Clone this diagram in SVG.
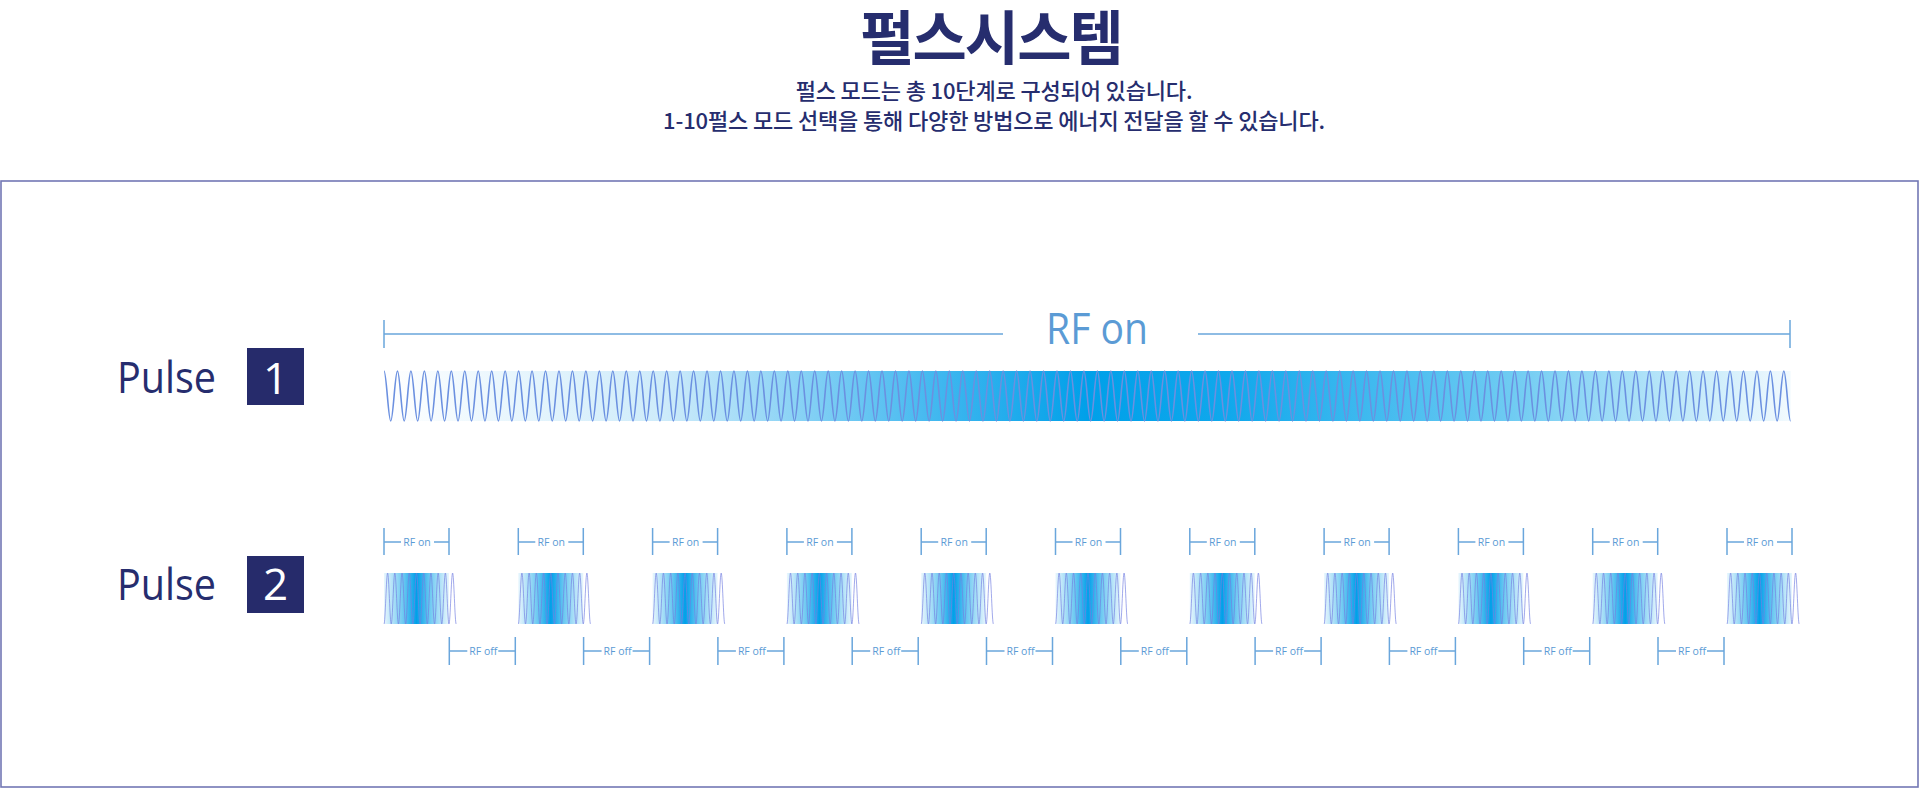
<svg xmlns="http://www.w3.org/2000/svg" xmlns:xlink="http://www.w3.org/1999/xlink" width="1920" height="788" viewBox="0 0 1920 788">
<style>
.ko{font-family:"Noto Sans CJK KR","Noto Sans",sans-serif;fill:#262d6e;text-anchor:middle}
.lbl{font-family:"Open Sans","Liberation Sans",sans-serif;fill:#262d6e;font-size:44px}
.num{font-family:"Open Sans","Liberation Sans",sans-serif;fill:#ffffff;font-size:44px;text-anchor:middle}
.box{fill:#262b6b}
.dim{stroke:#6aa6dc;stroke-width:1.5;fill:none}
.sm{font-family:"Open Sans","Liberation Sans",sans-serif;fill:#5b9bd5;font-size:10.5px;text-anchor:middle}
.big{font-family:"Open Sans","Liberation Sans",sans-serif;fill:#5b9bd5;font-size:44px;text-anchor:middle}
.wave{fill:none;stroke:#6b90e0;stroke-width:1.6}
.bw{fill:none;stroke:#7480e2;stroke-width:0.8;opacity:0.85}
</style>
<defs>
<linearGradient id="g1" gradientUnits="userSpaceOnUse" x1="384" y1="0" x2="1791" y2="0">
<stop offset="0" stop-color="#ffffff"/>
<stop offset="0.2" stop-color="#cdebfa"/>
<stop offset="0.4" stop-color="#3cb6ef"/>
<stop offset="0.5" stop-color="#00a0e9"/>
<stop offset="0.6" stop-color="#10a8ec"/>
<stop offset="0.8" stop-color="#6ecbf2"/>
<stop offset="1" stop-color="#f2fafe"/>
</linearGradient>
<linearGradient id="gB" x1="0" y1="0" x2="1" y2="0">
<stop offset="0" stop-color="#e8f6fd"/>
<stop offset="0.3" stop-color="#6ac8f1"/>
<stop offset="0.5" stop-color="#00a0e9"/>
<stop offset="0.7" stop-color="#6ac8f1"/>
<stop offset="1" stop-color="#e8f6fd"/>
</linearGradient>
<g id="burst">
<rect x="0" y="0" width="65" height="51" fill="url(#gB)"/>
<path class="bw" d="M0,51 c1.31,0 2.30,-51 3.61,-51 s2.30,51 3.61,51 2.30,-51 3.61,-51 2.30,51 3.61,51 2.30,-51 3.61,-51 2.30,51 3.61,51 2.30,-51 3.61,-51 2.30,51 3.61,51 2.30,-51 3.61,-51 2.30,51 3.61,51 2.30,-51 3.61,-51 2.30,51 3.61,51 2.30,-51 3.61,-51 2.30,51 3.61,51 2.30,-51 3.61,-51 2.30,51 3.61,51 2.30,-51 3.61,-51 2.30,51 3.61,51 2.30,-51 3.61,-51 2.30,51 3.61,51"/>
</g>
<g id="onB">
<path class="dim" d="M0,0V27M65,0V27M0,14H17M50,14H65"/>
<text class="sm" x="33" y="17.5">RF on</text>
</g>
<g id="offB">
<path class="dim" d="M0,0V28M66,0V28M0,14H18M49,14H66"/>
<text class="sm" x="34" y="18">RF off</text>
</g>
</defs>

<g id="title">
<text class="ko" x="991" y="59.5" font-size="59" font-weight="700" letter-spacing="-2">펄스시스템</text>
<text class="ko" x="994" y="99" font-size="22" font-weight="500" letter-spacing="-0.15">펄스 모드는 총 10단계로 구성되어 있습니다.</text>
<text class="ko" x="994" y="129" font-size="22" font-weight="500" letter-spacing="-0.15">1-10펄스 모드 선택을 통해 다양한 방법으로 에너지 전달을 할 수 있습니다.</text>
</g>

<rect id="frame" x="1" y="181" width="1917" height="606" fill="none" stroke="#7277b5" stroke-width="1.6"/>

<g id="pulse1">
<text class="lbl" x="117" y="393" textLength="99" lengthAdjust="spacingAndGlyphs">Pulse</text>
<rect class="box" x="247" y="348" width="57" height="57"/>
<text class="num" x="275.5" y="394">1</text>
<rect x="384" y="371" width="1406.6" height="50" fill="url(#g1)"/>
<path class="wave" d="M384,371 c2.45,0 4.28,50 6.73,50
s4.28,-50 6.73,-50 4.28,50 6.73,50 4.28,-50 6.73,-50 4.28,50 6.73,50 4.28,-50 6.73,-50 4.28,50 6.73,50 4.28,-50 6.73,-50 4.28,50 6.73,50
4.28,-50 6.73,-50 4.28,50 6.73,50 4.28,-50 6.73,-50 4.28,50 6.73,50 4.28,-50 6.73,-50 4.28,50 6.73,50 4.28,-50 6.73,-50 4.28,50 6.73,50
4.28,-50 6.73,-50 4.28,50 6.73,50 4.28,-50 6.73,-50 4.28,50 6.73,50 4.28,-50 6.73,-50 4.28,50 6.73,50 4.28,-50 6.73,-50 4.28,50 6.73,50
4.28,-50 6.73,-50 4.28,50 6.73,50 4.28,-50 6.73,-50 4.28,50 6.73,50 4.28,-50 6.73,-50 4.28,50 6.73,50 4.28,-50 6.73,-50 4.28,50 6.73,50
4.28,-50 6.73,-50 4.28,50 6.73,50 4.28,-50 6.73,-50 4.28,50 6.73,50 4.28,-50 6.73,-50 4.28,50 6.73,50 4.28,-50 6.73,-50 4.28,50 6.73,50
4.28,-50 6.73,-50 4.28,50 6.73,50 4.28,-50 6.73,-50 4.28,50 6.73,50 4.28,-50 6.73,-50 4.28,50 6.73,50 4.28,-50 6.73,-50 4.28,50 6.73,50
4.28,-50 6.73,-50 4.28,50 6.73,50 4.28,-50 6.73,-50 4.28,50 6.73,50 4.28,-50 6.73,-50 4.28,50 6.73,50 4.28,-50 6.73,-50 4.28,50 6.73,50
4.28,-50 6.73,-50 4.28,50 6.73,50 4.28,-50 6.73,-50 4.28,50 6.73,50 4.28,-50 6.73,-50 4.28,50 6.73,50 4.28,-50 6.73,-50 4.28,50 6.73,50
4.28,-50 6.73,-50 4.28,50 6.73,50 4.28,-50 6.73,-50 4.28,50 6.73,50 4.28,-50 6.73,-50 4.28,50 6.73,50 4.28,-50 6.73,-50 4.28,50 6.73,50
4.28,-50 6.73,-50 4.28,50 6.73,50 4.28,-50 6.73,-50 4.28,50 6.73,50 4.28,-50 6.73,-50 4.28,50 6.73,50 4.28,-50 6.73,-50 4.28,50 6.73,50
4.28,-50 6.73,-50 4.28,50 6.73,50 4.28,-50 6.73,-50 4.28,50 6.73,50 4.28,-50 6.73,-50 4.28,50 6.73,50 4.28,-50 6.73,-50 4.28,50 6.73,50
4.28,-50 6.73,-50 4.28,50 6.73,50 4.28,-50 6.73,-50 4.28,50 6.73,50 4.28,-50 6.73,-50 4.28,50 6.73,50 4.28,-50 6.73,-50 4.28,50 6.73,50
4.28,-50 6.73,-50 4.28,50 6.73,50 4.28,-50 6.73,-50 4.28,50 6.73,50 4.28,-50 6.73,-50 4.28,50 6.73,50 4.28,-50 6.73,-50 4.28,50 6.73,50
4.28,-50 6.73,-50 4.28,50 6.73,50 4.28,-50 6.73,-50 4.28,50 6.73,50 4.28,-50 6.73,-50 4.28,50 6.73,50 4.28,-50 6.73,-50 4.28,50 6.73,50
4.28,-50 6.73,-50 4.28,50 6.73,50 4.28,-50 6.73,-50 4.28,50 6.73,50 4.28,-50 6.73,-50 4.28,50 6.73,50 4.28,-50 6.73,-50 4.28,50 6.73,50
4.28,-50 6.73,-50 4.28,50 6.73,50 4.28,-50 6.73,-50 4.28,50 6.73,50 4.28,-50 6.73,-50 4.28,50 6.73,50 4.28,-50 6.73,-50 4.28,50 6.73,50
4.28,-50 6.73,-50 4.28,50 6.73,50 4.28,-50 6.73,-50 4.28,50 6.73,50 4.28,-50 6.73,-50 4.28,50 6.73,50 4.28,-50 6.73,-50 4.28,50 6.73,50
4.28,-50 6.73,-50 4.28,50 6.73,50 4.28,-50 6.73,-50 4.28,50 6.73,50 4.28,-50 6.73,-50 4.28,50 6.73,50 4.28,-50 6.73,-50 4.28,50 6.73,50
4.28,-50 6.73,-50 4.28,50 6.73,50 4.28,-50 6.73,-50 4.28,50 6.73,50 4.28,-50 6.73,-50 4.28,50 6.73,50 4.28,-50 6.73,-50 4.28,50 6.73,50
4.28,-50 6.73,-50 4.28,50 6.73,50 4.28,-50 6.73,-50 4.28,50 6.73,50 4.28,-50 6.73,-50 4.28,50 6.73,50 4.28,-50 6.73,-50 4.28,50 6.73,50
4.28,-50 6.73,-50 4.28,50 6.73,50 4.28,-50 6.73,-50 4.28,50 6.73,50 4.28,-50 6.73,-50 4.28,50 6.73,50 4.28,-50 6.73,-50 4.28,50 6.73,50
4.28,-50 6.73,-50 4.28,50 6.73,50 4.28,-50 6.73,-50 4.28,50 6.73,50 4.28,-50 6.73,-50 4.28,50 6.73,50 4.28,-50 6.73,-50 4.28,50 6.73,50
4.28,-50 6.73,-50 4.28,50 6.73,50 4.28,-50 6.73,-50 4.28,50 6.73,50 4.28,-50 6.73,-50 4.28,50 6.73,50 4.28,-50 6.73,-50 4.28,50 6.73,50
4.28,-50 6.73,-50 4.28,50 6.73,50 4.28,-50 6.73,-50 4.28,50 6.73,50 4.28,-50 6.73,-50 4.28,50 6.73,50 4.28,-50 6.73,-50 4.28,50 6.73,50
4.28,-50 6.73,-50 4.28,50 6.73,50 4.28,-50 6.73,-50 4.28,50 6.73,50 4.28,-50 6.73,-50 4.28,50 6.73,50 4.28,-50 6.73,-50 4.28,50 6.73,50
4.28,-50 6.73,-50 4.28,50 6.73,50 4.28,-50 6.73,-50 4.28,50 6.73,50 4.28,-50 6.73,-50 4.28,50 6.73,50 4.28,-50 6.73,-50 4.28,50 6.73,50"/>
</g>

<g id="pulse2">
<text class="lbl" x="117" y="600" textLength="99" lengthAdjust="spacingAndGlyphs">Pulse</text>
<rect class="box" x="247" y="556" width="57" height="57"/>
<text class="num" x="275.5" y="600">2</text>
<use href="#burst" x="384" y="573"/>
<use href="#burst" x="518.3" y="573"/>
<use href="#burst" x="652.6" y="573"/>
<use href="#burst" x="786.9" y="573"/>
<use href="#burst" x="921.2" y="573"/>
<use href="#burst" x="1055.5" y="573"/>
<use href="#burst" x="1189.8" y="573"/>
<use href="#burst" x="1324.1" y="573"/>
<use href="#burst" x="1458.4" y="573"/>
<use href="#burst" x="1592.7" y="573"/>
<use href="#burst" x="1727" y="573"/>
</g>

<g id="connectors">
<path class="dim" d="M384,320V348M1790,320V348M384,334H1003M1198,334H1790"/>
<text class="big" x="1097" y="344" textLength="102" lengthAdjust="spacingAndGlyphs">RF on</text>
<use href="#onB" x="384" y="528"/>
<use href="#onB" x="518.3" y="528"/>
<use href="#onB" x="652.6" y="528"/>
<use href="#onB" x="786.9" y="528"/>
<use href="#onB" x="921.2" y="528"/>
<use href="#onB" x="1055.5" y="528"/>
<use href="#onB" x="1189.8" y="528"/>
<use href="#onB" x="1324.1" y="528"/>
<use href="#onB" x="1458.4" y="528"/>
<use href="#onB" x="1592.7" y="528"/>
<use href="#onB" x="1727" y="528"/>
<use href="#offB" x="449.3" y="637"/>
<use href="#offB" x="583.6" y="637"/>
<use href="#offB" x="717.9" y="637"/>
<use href="#offB" x="852.2" y="637"/>
<use href="#offB" x="986.5" y="637"/>
<use href="#offB" x="1120.8" y="637"/>
<use href="#offB" x="1255.1" y="637"/>
<use href="#offB" x="1389.4" y="637"/>
<use href="#offB" x="1523.7" y="637"/>
<use href="#offB" x="1658" y="637"/>
</g>
</svg>
